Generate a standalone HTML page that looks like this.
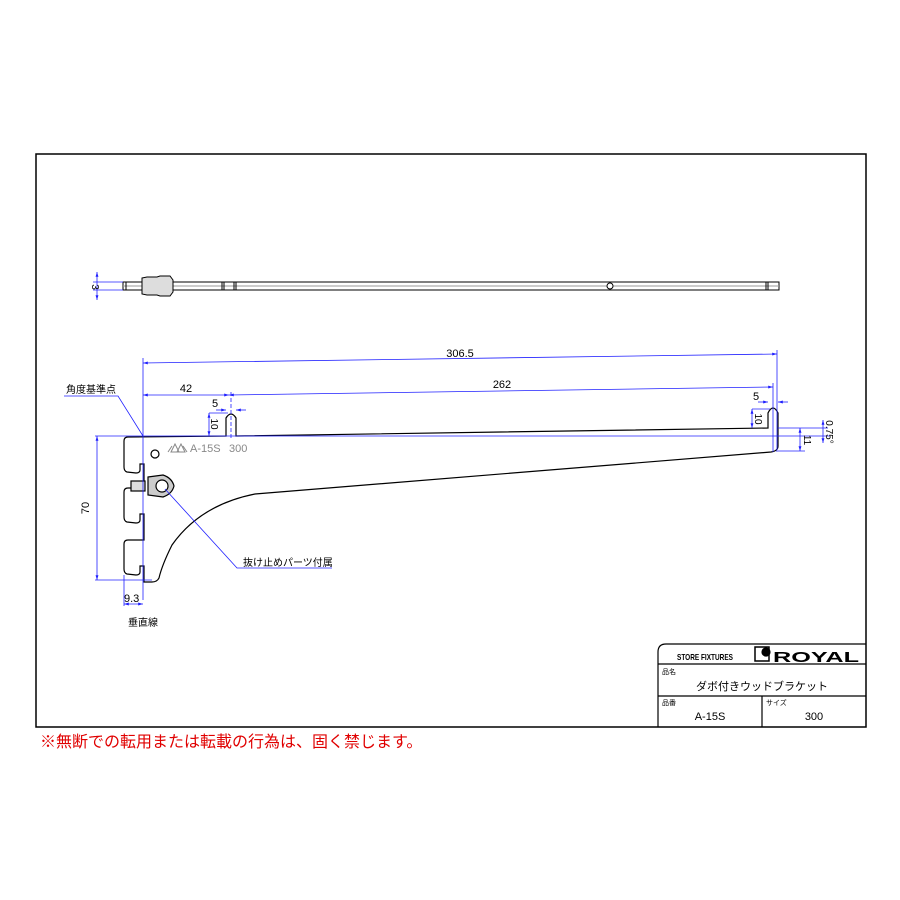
<!DOCTYPE html>
<html><head><meta charset="utf-8"><style>
html,body{margin:0;padding:0;background:#fff;}
svg{display:block;}
text{font-family:"Liberation Sans","Noto Sans CJK JP",sans-serif;}
</style></head><body>
<svg width="900" height="900" viewBox="0 0 900 900" xmlns="http://www.w3.org/2000/svg">
<defs>
<marker id="a" viewBox="0 0 10 10" refX="10" refY="5" markerWidth="6" markerHeight="6" orient="auto-start-reverse"><path d="M0,2 L10,5 L0,8 z" fill="#2020ff"/></marker>
</defs>
<rect x="36" y="154" width="830" height="573" fill="none" stroke="#000" stroke-width="1.5"/>
<g stroke="#000" stroke-width="1" fill="none">
<rect x="123" y="282" width="656" height="8"/>
<line x1="123" y1="286" x2="779" y2="286" stroke="#999"/>
<line x1="126" y1="282" x2="126" y2="290"/>
<line x1="222" y1="282" x2="222" y2="290"/><line x1="224" y1="282" x2="224" y2="290"/>
<line x1="234" y1="282" x2="234" y2="290"/><line x1="236" y1="282" x2="236" y2="290"/>
<line x1="766" y1="282" x2="766" y2="290"/><line x1="768" y1="282" x2="768" y2="290"/>
<circle cx="610" cy="286" r="3" fill="#fff"/>
<path d="M142,278 L147,277 L157,277 L160,276 L170,276 L173,280 L173,292 L170,296 L160,296 L157,295 L147,295 L142,294 z" fill="#ddd"/>
</g>
<g stroke="#2020ff" stroke-width="0.8" fill="none">
<line x1="97" y1="272" x2="97" y2="300" marker-start="url(#a)" marker-end="url(#a)"/>
<line x1="93" y1="282" x2="123" y2="282"/><line x1="93" y1="290" x2="123" y2="290"/>
</g>
<text x="92" y="287" font-size="10" transform="rotate(90 92 287)" text-anchor="middle">3</text>

<g stroke="#000" stroke-width="1.2" fill="none">
<path d="M128,437 L226,436 L226,418 Q231,410 236,418 L236,436 L768,428 L768,413 Q773,403 778,413 L778,446 Q778,451 771,452 L255,494 Q200,505 172,545 Q162,565 159,578 Q157,582 152,582 L144,582 L144,566 L140,566 L140,572 Q140,575 136,575 L127,574 Q124,573 124,569 L124,544 Q124,540 128,540 L144,540 L144,514 L140,514 L140,520 Q140,523 136,523 L127,522 Q124,521 124,517 L124,492 Q124,488 128,488 L144,488 L144,464 L140,464 L140,470 Q140,473 136,473 L127,472 Q124,471 124,467 L124,441 Q124,437 128,437 z"/>
<circle cx="155" cy="454" r="4"/>
<path d="M148,477 L163,475 Q172,478 174,486 Q172,494 163,497 L148,495 z" fill="#ccc"/>
<circle cx="162" cy="486" r="6" fill="#fff"/>
<rect x="131" y="481" width="14" height="10" fill="#ddd"/>
</g>
<g stroke="#888" stroke-width="1" fill="none">
<path d="M171,452 L175,444 L179,452 z M177,452 L181,444 L185,452 z M168,452 L172,446 M183,446 L187,452"/>
</g>
<text x="190" y="452" font-size="11" fill="#888">A-15S</text>
<text x="229" y="452" font-size="11" fill="#888">300</text>

<g stroke="#2020ff" stroke-width="0.8" fill="none">
<line x1="143" y1="358" x2="143" y2="600"/>
<line x1="143" y1="363" x2="777" y2="354" marker-start="url(#a)" marker-end="url(#a)"/>
<line x1="777" y1="350" x2="777" y2="452"/>
<line x1="143" y1="395" x2="229" y2="395" marker-start="url(#a)" marker-end="url(#a)"/>
<line x1="229" y1="395" x2="773" y2="387" marker-start="url(#a)" marker-end="url(#a)"/>
<line x1="773" y1="383" x2="773" y2="452"/>
<line x1="231" y1="392" x2="231" y2="440" stroke-dasharray="4,2"/>
<line x1="216" y1="410" x2="226" y2="410" marker-end="url(#a)"/><line x1="236" y1="410" x2="246" y2="410" marker-start="url(#a)"/>
<line x1="209" y1="413" x2="228" y2="413"/>
<line x1="209" y1="413" x2="209" y2="436" marker-start="url(#a)" marker-end="url(#a)"/>
<line x1="95" y1="436" x2="830" y2="436"/>
<line x1="95" y1="580" x2="152" y2="580"/>
<line x1="97" y1="436" x2="97" y2="580" marker-start="url(#a)" marker-end="url(#a)"/>
<line x1="124" y1="575" x2="124" y2="606"/>
<line x1="124" y1="604" x2="143" y2="604" marker-start="url(#a)" marker-end="url(#a)"/>
<line x1="758" y1="402" x2="768" y2="402" marker-end="url(#a)"/><line x1="778" y1="402" x2="788" y2="402" marker-start="url(#a)"/>
<line x1="752" y1="409" x2="770" y2="409"/>
<line x1="752" y1="409" x2="752" y2="428" marker-start="url(#a)" marker-end="url(#a)"/>
<line x1="778" y1="428" x2="828" y2="428"/>
<line x1="778" y1="451" x2="805" y2="451"/>
<line x1="800" y1="428" x2="800" y2="451" marker-start="url(#a)" marker-end="url(#a)"/>
<line x1="823" y1="420" x2="823" y2="443" marker-start="url(#a)" marker-end="url(#a)"/>
<path d="M64,396 L118,396 L143,436"/>
<path d="M165,489 L237,568 L332,568"/>
</g>
<g font-size="11" fill="#000">
<text x="460" y="357" text-anchor="middle">306.5</text>
<text x="186" y="392" text-anchor="middle">42</text>
<text x="502" y="388" text-anchor="middle">262</text>
<text x="215" y="407" text-anchor="middle">5</text>
<text x="756" y="400" text-anchor="middle">5</text>
<text x="66" y="393" font-size="10">角度基準点</text>
<text x="243" y="566" font-size="10">抜け止めパーツ付属</text>
<text x="124" y="602" font-size="11">9.3</text>
<text x="128" y="626" font-size="10">垂直線</text>
<text transform="translate(211,424) rotate(90)" text-anchor="middle" font-size="10">10</text>
<text transform="translate(755,419) rotate(90)" text-anchor="middle" font-size="10">10</text>
<text transform="translate(804,440) rotate(90)" text-anchor="middle" font-size="10">11</text>
<text transform="translate(826,432) rotate(90)" text-anchor="middle" font-size="10">0.75°</text>
<text transform="translate(89,508) rotate(-90)" text-anchor="middle" font-size="11">70</text>
</g>

<g stroke="#000" stroke-width="1.2" fill="none">
<path d="M658,727 L658,652 Q658,644 666,644 L866,644"/>
<line x1="658" y1="664" x2="866" y2="664"/>
<line x1="658" y1="696" x2="866" y2="696"/>
<line x1="762" y1="696" x2="762" y2="727"/>
<rect x="755" y="647" width="14" height="14" stroke-width="1.5"/>
<circle cx="766" cy="652" r="4" fill="#000"/>
</g>
<text x="677" y="660" font-size="8.5" font-weight="bold" textLength="56" lengthAdjust="spacingAndGlyphs">STORE FIXTURES</text>
<text x="773" y="662" font-size="15" font-weight="bold" textLength="86" lengthAdjust="spacingAndGlyphs">ROYAL</text>
<text x="662" y="674" font-size="7">品名</text>
<text x="762" y="690" font-size="11" text-anchor="middle">ダボ付きウッドブラケット</text>
<text x="662" y="705" font-size="7">品番</text>
<text x="710" y="720" font-size="11" text-anchor="middle">A-15S</text>
<text x="766" y="705" font-size="7">サイズ</text>
<text x="814" y="720" font-size="11" text-anchor="middle">300</text>

<text x="40" y="747" font-size="16" fill="#e00000">※無断での転用または転載の行為は、固く禁じます。</text>
</svg>
</body></html>
